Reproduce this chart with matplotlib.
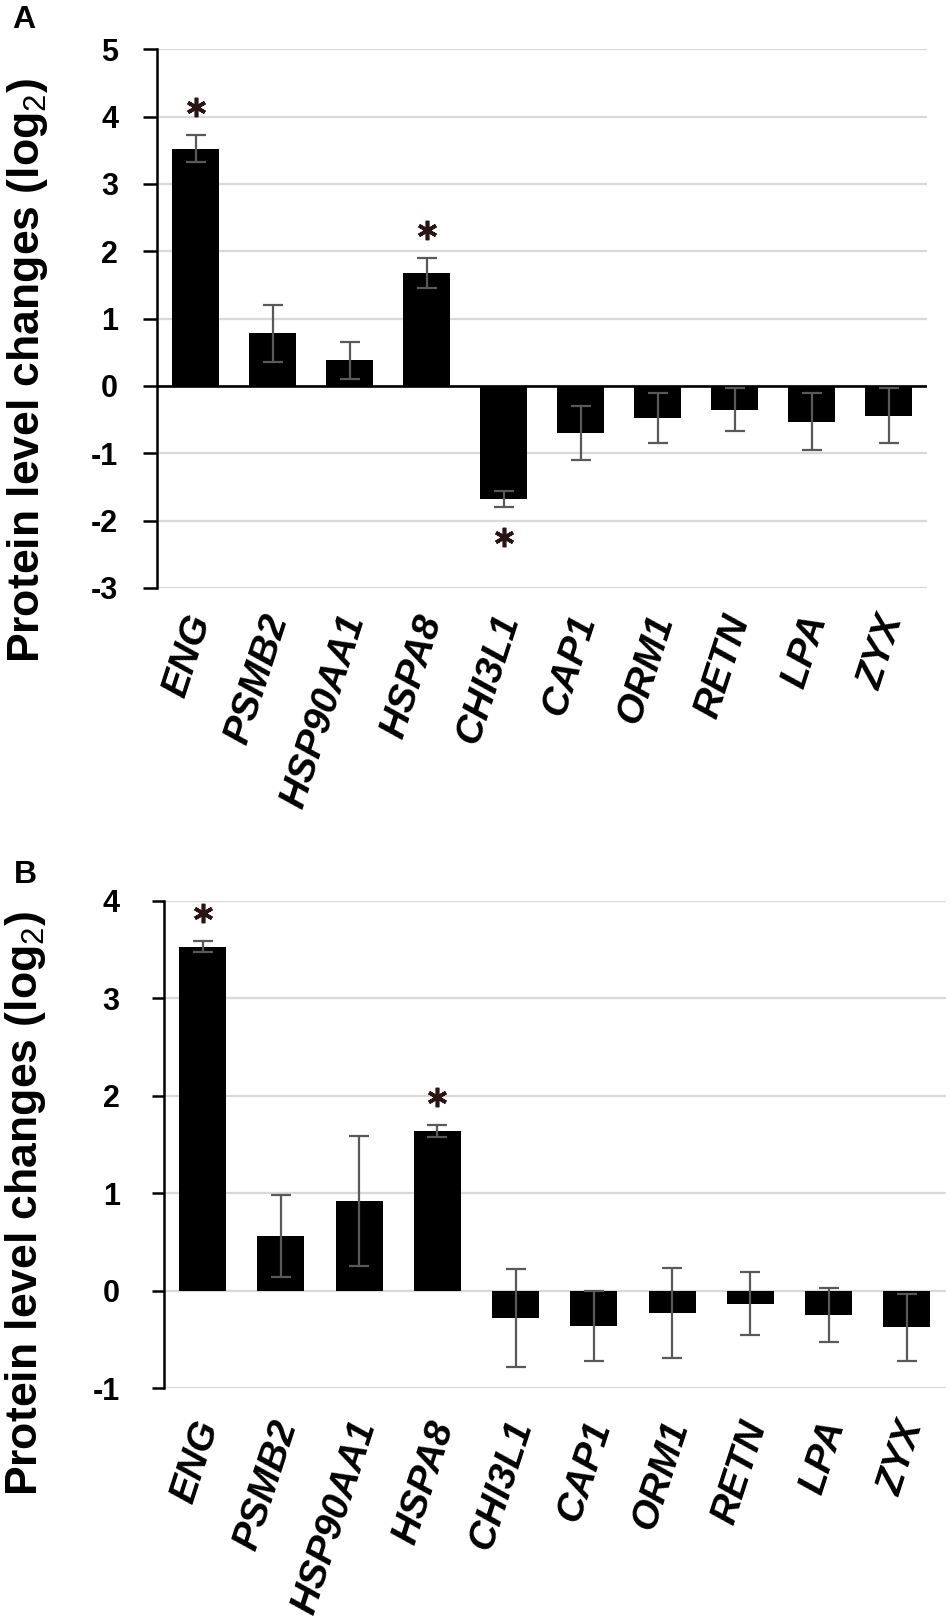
import matplotlib
matplotlib.use("Agg")
import matplotlib.pyplot as plt
from matplotlib.transforms import ScaledTranslation, blended_transform_factory
import numpy as np

plt.rcParams['font.family'] = ['Liberation Sans', 'DejaVu Sans']
plt.rcParams['mathtext.fontset'] = 'custom'
plt.rcParams['mathtext.rm'] = 'Liberation Sans'
plt.rcParams['mathtext.bf'] = 'Liberation Sans:bold'
plt.rcParams['axes.unicode_minus'] = False

genes = ['ENG', 'PSMB2', 'HSP90AA1', 'HSPA8', 'CHI3L1', 'CAP1', 'ORM1', 'RETN', 'LPA', 'ZYX']

# Panel A
a_means = [3.52, 0.78, 0.38, 1.68, -1.68, -0.70, -0.48, -0.35, -0.53, -0.44]
a_errs = [0.20, 0.43, 0.28, 0.22, 0.12, 0.40, 0.37, 0.32, 0.42, 0.41]
a_sig = [0, 3, 4]
a_yticks = [-3, -2, -1, 0, 1, 2, 3, 4, 5]

# Panel B
b_means = [3.53, 0.56, 0.92, 1.64, -0.28, -0.36, -0.23, -0.135, -0.25, -0.375]
b_errs = [0.055, 0.425, 0.67, 0.065, 0.505, 0.36, 0.46, 0.325, 0.28, 0.345]
b_sig = [0, 3]
b_yticks = [-1, 0, 1, 2, 3, 4]

ylabel = r'Protein level changes (log$_{2}$)'

fig = plt.figure(figsize=(9.5, 16.23), dpi=100)
axA = fig.add_axes([157/950, 1-588/1623, (927-157)/950, (588-49.3)/1623])
axB = fig.add_axes([163.5/950, 1-1388/1623, (946-163.5)/950, (1388-901)/1623])


def draw(ax, means, errs, sig, yticks, width, black_zero, tlen, tpad, xpad_px, xoff_px):
    x = np.arange(len(genes))
    ax.bar(x, means, width=width, color='black', zorder=2)
    ax.errorbar(x, means, yerr=errs, fmt='none', ecolor='#595959',
                elinewidth=1.6, capsize=7.5, capthick=1.6, zorder=3)
    ax.set_xlim(-0.5, len(genes) - 0.5)
    ax.set_ylim(yticks[0], yticks[-1])
    ax.set_yticks(yticks)
    ax.set_yticklabels([str(t) for t in yticks], fontsize=22, fontweight='bold')
    ax.yaxis.grid(True, color='#d9d9d9', lw=1.6)
    ax.set_axisbelow(True)
    for s in ['top', 'right', 'bottom']:
        ax.spines[s].set_visible(False)
    ax.spines['left'].set_linewidth(1.8)
    ax.tick_params(axis='y', length=tlen, width=1.8, pad=tpad, direction='out')
    if black_zero:
        ax.axhline(0, color='black', lw=1.9, zorder=2.5)
    ax.set_xticks(x)
    ax.set_xticklabels([])
    ax.tick_params(axis='x', length=0)
    base = blended_transform_factory(ax.transData, ax.transAxes)
    tr_lab = base + ScaledTranslation(xoff_px/100, -xpad_px/100, fig.dpi_scale_trans)
    for xi, g in zip(x, genes):
        ax.text(xi, 0, g, transform=tr_lab, rotation=72, ha='right', va='baseline',
                rotation_mode='anchor', fontsize=28, fontweight='bold',
                fontstyle='italic', clip_on=False)
    for i in sig:
        m, e = means[i], errs[i]
        if m >= 0:
            y = m + e
            tr = ax.transData + ScaledTranslation(0, 0.28, fig.dpi_scale_trans)
        else:
            y = m - e
            tr = ax.transData + ScaledTranslation(0, -0.30, fig.dpi_scale_trans)
        ax.plot([x[i]], [y], marker=(6, 2, 0), ms=14, mew=2.6,
                color='#2a1414', transform=tr, zorder=4, clip_on=False)


draw(axA, a_means, a_errs, a_sig, a_yticks, 0.61, True, 10, 18, 31, 15)
draw(axB, b_means, b_errs, b_sig, b_yticks, 0.60, False, 8.5, 23, 37, 16)

fig.text(12/950, 1-5/1623, 'A', fontsize=23, fontweight='bold', ha='left', va='top')
fig.text(14/950, 1-860/1623, 'B', fontsize=23, fontweight='bold', ha='left', va='top')
fig.text(28/950, 1-370/1623, ylabel, rotation=90, fontsize=32, fontweight='bold',
         ha='center', va='center')
fig.text(26/950, 1-1203/1623, ylabel, rotation=90, fontsize=32, fontweight='bold',
         ha='center', va='center')

fig.savefig('out.png', dpi=100)
